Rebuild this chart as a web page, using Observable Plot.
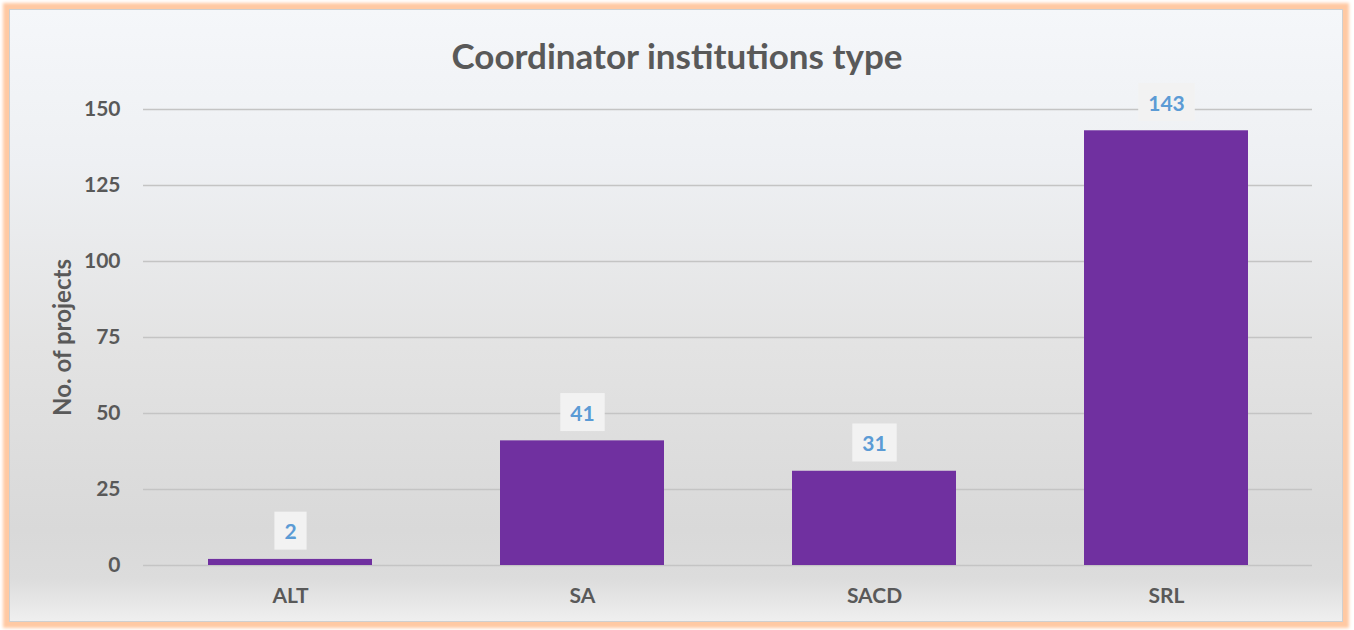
<!DOCTYPE html>
<html>
<head>
<meta charset="utf-8">
<script src="https://cdn.jsdelivr.net/npm/d3@7"></script>
<script src="https://cdn.jsdelivr.net/npm/@observablehq/plot@0.6"></script>
<style>
  html, body { margin: 0; padding: 0; width: 1354px; height: 630px; overflow: hidden; background: #fff; }
  body { position: relative; font-family: Lato, "Open Sans", sans-serif; }
  #frame {
    position: absolute; left: 9px; top: 9px; width: 1332px; height: 611px;
    border: 1px solid #cfcfcf;
    box-shadow: 0 0 3px 6px #ffc9a3;
    background: linear-gradient(to bottom, #f5f7fa 0%, #eef0f3 25%, #e3e3e3 55%, #d9d9d9 85%, #dcdcdc 93%, #efefef 100%);
  }
  #title {
    position: absolute; left: 0; width: 1354px; top: 34px; text-align: center;
    font: bold 35px Lato, sans-serif; color: #595959; line-height: 42px;
  }
  #chart { position: absolute; left: 0; top: 90px; }
  #chart svg { background: transparent; overflow: visible; }
</style>
</head>
<body>
<div id="frame"></div>
<div id="title">Coordinator institutions type</div>
<div id="chart"></div>
<script>
const categories = ["ALT", "SA", "SACD", "SRL"];
const projects = [2, 41, 31, 143];
const yTicks = [0, 25, 50, 75, 100, 125, 150];
const yLabel = "No. of projects";

const data = categories.map((c, i) => ({category: c, value: projects[i]}));

const chart = Plot.plot({
  width: 1354,
  height: 532,
  marginLeft: 143,
  marginRight: 42,
  marginTop: 19,
  marginBottom: 57,
  style: {background: "transparent", fontFamily: "Lato, sans-serif"},
  x: {domain: categories, paddingInner: 0.44, paddingOuter: 0.22, label: null},
  y: {domain: [0, 150], ticks: yTicks, label: yLabel},
  marks: [
    Plot.ruleY(yTicks, {stroke: "#c4c4c4", strokeWidth: 1.5}),
    Plot.barY(data, {x: "category", y: "value", fill: "#7030a0"}),
    Plot.text(data, {
      x: "category", y: "value", text: d => String(d.value),
      dy: -27, fill: "#5b9bd5", fontWeight: "bold", fontSize: 21,
      className: "datalabels"
    }),
    Plot.axisX({tickSize: 0, tickPadding: 23, fontSize: 21, fontWeight: "bold", fill: "#595959", label: null}),
    Plot.axisY({ticks: yTicks, tickSize: 0, tickPadding: 23, fontSize: 21, fontWeight: "bold", fill: "#595959",
      label: yLabel, labelAnchor: "center", labelOffset: 90, labelArrow: "none"})
  ]
});
document.getElementById("chart").appendChild(chart);

// label background boxes
chart.querySelectorAll("g.datalabels text").forEach(t => {
  const b = t.getBBox();
  const padX = 10, h = 38;
  const cy = b.y + b.height / 2;
  const r = document.createElementNS("http://www.w3.org/2000/svg", "rect");
  r.setAttribute("x", b.x - padX);
  r.setAttribute("y", cy - h / 2);
  r.setAttribute("width", b.width + 2 * padX);
  r.setAttribute("height", h);
  r.setAttribute("fill", "#f2f2f2");
  if (t.getAttribute("transform")) r.setAttribute("transform", t.getAttribute("transform"));
  t.parentNode.insertBefore(r, t);
});
// style y-axis label
chart.querySelectorAll("text").forEach(t => {
  if (t.textContent === yLabel) { t.setAttribute("font-size", 24); t.setAttribute("font-weight", "bold"); t.setAttribute("fill", "#595959"); }
});
</script>
</body>
</html>
